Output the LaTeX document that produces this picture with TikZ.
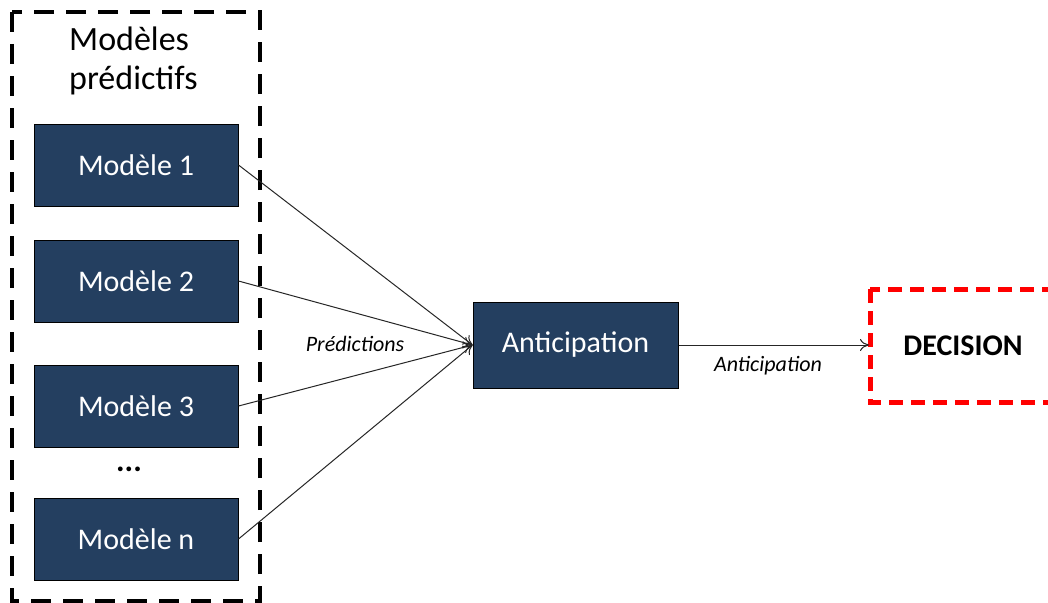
\documentclass[tikz,border=0pt]{standalone}
\usepackage{fontspec}
\setmainfont{Carlito}
\usetikzlibrary{arrows.meta}
\definecolor{navy}{HTML}{243F60}
\tikzset{
  model/.style={draw=black, line width=1pt, fill=navy, text=white, minimum width=204pt, minimum height=82pt, font=\fontsize{30}{34}\selectfont, inner sep=0pt},
  conn/.style={draw=black!85, line width=1pt, -{To[length=9pt,width=12pt]}},
  lbl/.style={font=\fontsize{22}{25}\selectfont\itshape, text=black, inner sep=0pt}
}
\begin{document}
\begin{tikzpicture}[x=1pt,y=-1pt]
\useasboundingbox (0,0) rectangle (1048,602);
\fill[white] (0,0) rectangle (1048,602);
% outer dashed group
\draw[black, line width=4pt, dash pattern=on 20pt off 12pt] (12,12) rectangle (260,601);
\node[anchor=west, align=left, font=\fontsize{34}{39}\selectfont, inner sep=0pt] (title) at (69,61) {Modèles\\prédictifs};
% model boxes
\node[model] (m1) at (136,165) {Modèle 1};
\node[model] (m2) at (136,281) {Modèle 2};
\node[model] (m3) at (136,406) {Modèle 3};
\node[font=\fontsize{32}{36}\selectfont\bfseries, inner sep=0pt] (dots) at (129,469) {...};
\node[model] (mn) at (136,539) {Modèle n};
% anticipation
\node[model, minimum width=205pt, minimum height=86pt] (ant) at (575.5,345) {Anticipation};
% decision
\draw[red, line width=5pt, dash pattern=on 14pt off 8pt] (870,289) rectangle (1070,402);
\node[font=\fontsize{30}{34}\selectfont\bfseries, inner sep=0pt] (dec) at (963,346) {DECISION};
\coordinate (decin) at (869,345);
% connectors
\draw[conn] (m1.east) -- (ant.west);
\draw[conn] (m2.east) -- (ant.west);
\draw[conn] (m3.east) -- (ant.west);
\draw[conn] (mn.east) -- (ant.west);
\draw[conn] (ant.east) -- (decin);
\node[lbl] (pred) at (355,344) {Prédictions};
\node[lbl] (antl) at (768,366) {Anticipation};
\end{tikzpicture}
\end{document}
